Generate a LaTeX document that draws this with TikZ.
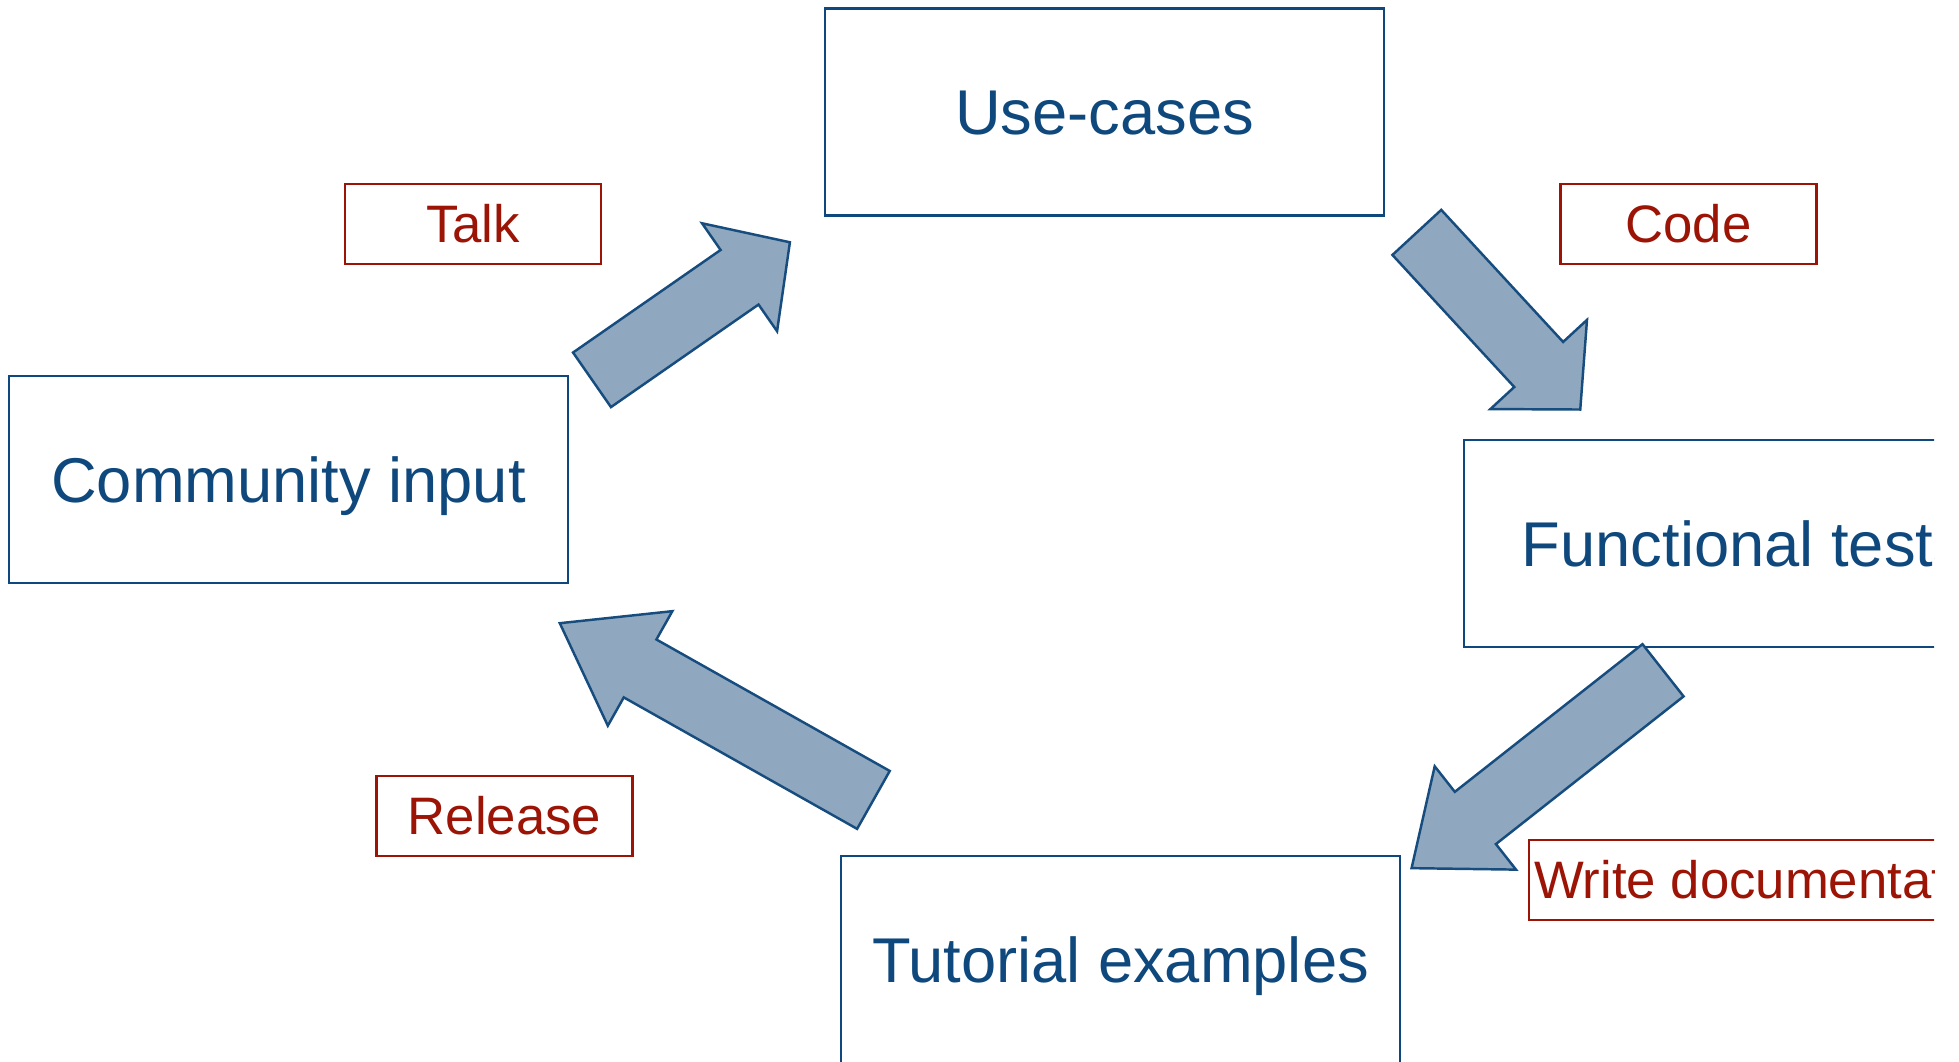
\documentclass[tikz,border=0pt]{standalone}
\usepackage{fontspec}
\setmainfont{Liberation Sans}
\usetikzlibrary{shapes.arrows}

\definecolor{boxblue}{RGB}{14,72,124}
\definecolor{labelred}{RGB}{155,20,5}
\definecolor{arrowfill}{RGB}{143,168,191}
\definecolor{arrowline}{RGB}{22,76,126}

\tikzset{
    stage/.style={
           rectangle,
           draw=boxblue, line width=0.6pt,
           text=boxblue,
           minimum width=5.59cm, minimum height=2.07cm,
           text height=17pt, text depth=4pt,
           font=\fontsize{18}{22}\selectfont,
           },
    action/.style={
           rectangle,
           draw=labelred, line width=0.6pt,
           text=labelred,
           minimum width=2.56cm, minimum height=0.80cm,
           inner sep=0.05cm,
           font=\fontsize{15}{18}\selectfont,
           },
    flow/.style={
           single arrow,
           draw=arrowline, line width=0.7pt,
           fill=arrowfill,
           inner xsep=0pt, inner ysep=0.32cm,
           single arrow tip angle=94,
           single arrow head extend=0.325cm,
           anchor=tail,
           },
}

\begin{document}
\begin{tikzpicture}

       \useasboundingbox (0,0) rectangle (19.59,-10.61);
       \begin{scope}
       \clip (0,0) rectangle (19.34,-10.61);

       \node[stage] (USECASES) at (11.045,-1.12) {Use-cases};
       \node[stage] (COMMUNITY) at (2.885,-4.795) {Community input};
       \node[stage] (TESTS) at (17.435,-5.435) {Functional tests};
       \node[stage] (TUTORIAL) at (11.205,-9.595) {Tutorial examples};

       \node[action] (TALK) at (4.73,-2.24) {Talk};
       \node[action] (CODE) at (16.885,-2.24) {Code};
       \node[action] (RELEASE) at (5.045,-8.16) {Release};
       \node[action, anchor=west] (DOCS) at (15.28,-8.80) {Write documentation};

       % block arrows round the cycle, placed by their tails
       \node[flow, minimum height=2.41cm, rotate=34.8] (TALKFLOW) at (5.91,-3.805) {};
       \node[flow, minimum height=2.41cm, rotate=-47.3] (CODEFLOW) at (14.16,-2.315) {};
       \node[flow, minimum height=3.20cm, rotate=-141.8, single arrow tip angle=78] (DOCSFLOW) at (16.64,-6.695) {};
       \node[flow, minimum height=3.60cm, rotate=150.6, single arrow tip angle=71] (RELEASEFLOW) at (8.745,-8.005) {};

       \end{scope}

\end{tikzpicture}
\end{document}
